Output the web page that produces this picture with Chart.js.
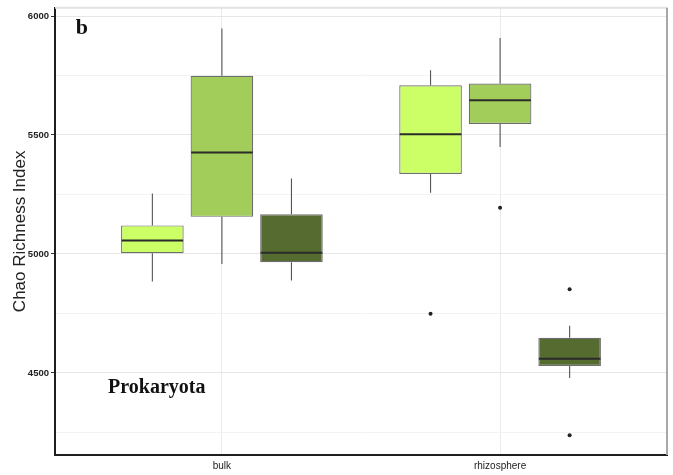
<!DOCTYPE html>
<html>
<head>
<meta charset="utf-8">
<script src="https://cdn.jsdelivr.net/npm/chart.js@4.4.1/dist/chart.umd.min.js"></script>
<style>
  html, body { margin: 0; padding: 0; background: #ffffff; }
  #wrap { width: 673px; height: 475px; }
</style>
</head>
<body>
<div id="wrap"><canvas id="chart" width="673" height="475"></canvas></div>
<script>
// Categories on the x axis and the y tick values
const categories = ['bulk', 'rhizosphere'];
const yMajorTicks = [4500, 5000, 5500, 6000];
const yMinorTicks = [4250, 4750, 5250, 5750];

// Box summaries per category: [lower whisker, Q1, median, Q3, upper whisker]
const lightSummary = [[4884, 5003, 5057, 5120, 5254], [5257, 5336, 5503, 5709, 5772]];
const midSummary   = [[4958, 5156, 5426, 5749, 5948], [5449, 5546, 5646, 5716, 5908]];
const darkSummary  = [[4888, 4965, 5005, 5167, 5317], [4479, 4529, 4560, 4648, 4698]];

// Points beyond the whiskers, per category
const lightOutliers = [[], [4749]];
const midOutliers   = [[], [5194]];
const darkOutliers  = [[], [4852, 4238]];

// Panel annotations
const panelLetter = 'b';
const panelName = 'Prokaryota';

function boxDataset(summary, outliers, color) {
  return {
    data: categories.map((c, i) => ({ x: i + 1, y: [summary[i][1], summary[i][3]] })),
    summary: summary,
    outliers: outliers,
    backgroundColor: color,
    borderColor: '#6e6e6e',
    borderWidth: 1.2,
    borderSkipped: false,
    categoryPercentage: 0.75,
    barPercentage: 0.9
  };
}

// Whiskers, medians, outliers and panel frame drawn from the chart's own scales
const boxPlotParts = {
  id: 'boxPlotParts',
  beforeDatasetsDraw(chart) {
    const ctx = chart.ctx;
    const y = chart.scales.y;
    const a = chart.chartArea;
    ctx.save();
    // light top edge and grey right edge of the panel
    ctx.strokeStyle = '#e2e2e2';
    ctx.lineWidth = 2;
    ctx.beginPath(); ctx.moveTo(a.left, a.top); ctx.lineTo(a.right, a.top); ctx.stroke();
    ctx.strokeStyle = '#a8a8a8';
    ctx.beginPath(); ctx.moveTo(a.right, a.top); ctx.lineTo(a.right, a.bottom); ctx.stroke();
    // whiskers
    ctx.strokeStyle = '#555555';
    ctx.lineWidth = 1.1;
    chart.data.datasets.forEach((ds, di) => {
      chart.getDatasetMeta(di).data.forEach((el, i) => {
        const s = ds.summary[i];
        ctx.beginPath();
        ctx.moveTo(el.x, y.getPixelForValue(s[0]));
        ctx.lineTo(el.x, y.getPixelForValue(s[1]));
        ctx.moveTo(el.x, y.getPixelForValue(s[3]));
        ctx.lineTo(el.x, y.getPixelForValue(s[4]));
        ctx.stroke();
      });
    });
    ctx.restore();
  },
  afterDatasetsDraw(chart) {
    const ctx = chart.ctx;
    const x = chart.scales.x;
    const y = chart.scales.y;
    ctx.save();
    chart.data.datasets.forEach((ds, di) => {
      chart.getDatasetMeta(di).data.forEach((el, i) => {
        const s = ds.summary[i];
        const half = el.width / 2;
        const my = y.getPixelForValue(s[2]);
        ctx.strokeStyle = '#2b2b2b';
        ctx.lineWidth = 2;
        ctx.beginPath();
        ctx.moveTo(el.x - half + 0.5, my);
        ctx.lineTo(el.x + half - 0.5, my);
        ctx.stroke();
        ctx.fillStyle = '#222222';
        ds.outliers[i].forEach(v => {
          ctx.beginPath();
          ctx.arc(el.x, y.getPixelForValue(v), 2, 0, Math.PI * 2);
          ctx.fill();
        });
      });
    });
    // panel letter and organism group
    ctx.fillStyle = '#111111';
    ctx.textAlign = 'center';
    ctx.textBaseline = 'middle';
    ctx.font = 'bold 22px "Liberation Serif", "Times New Roman", serif';
    ctx.fillText(panelLetter, x.getPixelForValue(0.497), y.getPixelForValue(5949));
    ctx.font = 'bold 20px "Liberation Serif", "Times New Roman", serif';
    ctx.fillText(panelName, x.getPixelForValue(0.766), y.getPixelForValue(4436));
    ctx.restore();
  }
};

new Chart(document.getElementById('chart'), {
  type: 'bar',
  data: {
    datasets: [
      boxDataset(lightSummary, lightOutliers, '#ccff66'),
      boxDataset(midSummary, midOutliers, '#a2cd5a'),
      boxDataset(darkSummary, darkOutliers, '#556b2f')
    ]
  },
  options: {
    responsive: false,
    animation: false,
    layout: { padding: { left: 0, right: 6, top: 7, bottom: 0 } },
    plugins: { legend: { display: false }, tooltip: { enabled: false } },
    scales: {
      x: {
        type: 'linear',
        min: 0.4,
        max: 2.6,
        offset: false,
        afterBuildTicks: s => { s.ticks = categories.map((c, i) => ({ value: i + 1 })); },
        afterFit: s => { s.height = 20; },
        grid: { offset: false, color: '#ebebeb', lineWidth: 1, drawTicks: false },
        border: { display: true, color: '#1e1e1e', width: 2 },
        ticks: {
          autoSkip: false,
          maxRotation: 0,
          padding: 5,
          color: '#222222',
          font: { family: '"Liberation Sans", Arial, sans-serif', size: 10 },
          callback: v => categories[Math.round(v) - 1] || ''
        }
      },
      y: {
        type: 'linear',
        min: 4155,
        max: 6035,
        afterBuildTicks: s => {
          s.ticks = yMinorTicks.concat(yMajorTicks).sort((p, q) => p - q).map(v => ({ value: v }));
        },
        afterFit: s => { s.width = 55; },
        grid: {
          color: c => (yMajorTicks.includes(c.tick && c.tick.value) ? '#e6e6e6' : '#f3f3f3'),
          tickColor: c => (yMajorTicks.includes(c.tick && c.tick.value) ? '#333333' : 'rgba(0,0,0,0)'),
          tickLength: 4,
          lineWidth: 1
        },
        border: { display: true, color: '#1e1e1e', width: 2 },
        ticks: {
          autoSkip: false,
          padding: 2,
          color: '#222222',
          font: { family: '"Liberation Sans", Arial, sans-serif', size: 9.5, weight: 'bold' },
          callback: v => (yMajorTicks.includes(v) ? String(v) : '')
        },
        title: {
          display: true,
          text: 'Chao Richness Index',
          color: '#222222',
          font: { family: '"Liberation Sans", Arial, sans-serif', size: 17 },
          padding: { top: 10, bottom: 0 }
        }
      }
    }
  },
  plugins: [boxPlotParts]
});
</script>
</body>
</html>
